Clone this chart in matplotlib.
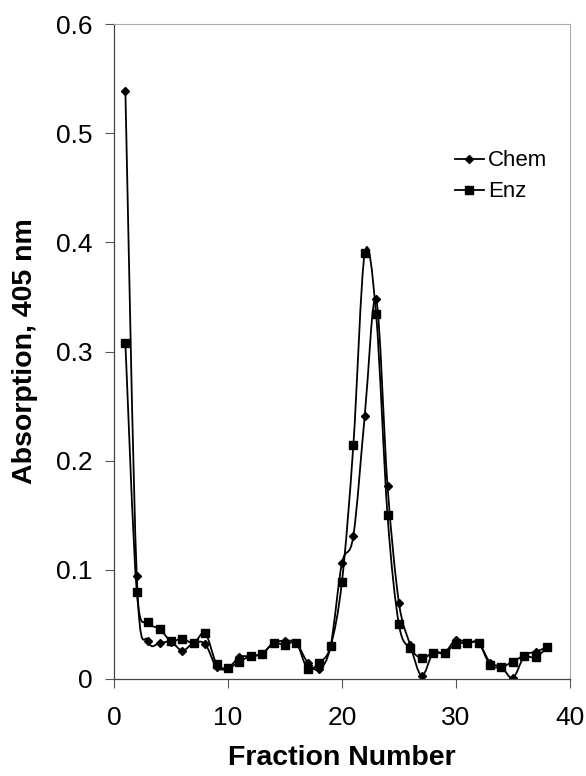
import numpy as np
import matplotlib.pyplot as plt
from matplotlib.path import Path
from matplotlib.patches import PathPatch

plt.rcParams['font.family'] = ['Liberation Sans', 'DejaVu Sans']

# Fraction numbers and absorption readings at 405 nm
fraction = np.arange(1, 39)
chem = [0.539, 0.094, 0.035, 0.033, 0.034, 0.026, 0.033, 0.032, 0.011, 0.010,
        0.020, 0.021, 0.023, 0.033, 0.035, 0.033, 0.015, 0.009, 0.030, 0.106,
        0.131, 0.241, 0.348, 0.177, 0.070, 0.031, 0.003, 0.024, 0.024, 0.036,
        0.033, 0.033, 0.015, 0.011, 0.001, 0.021, 0.025, 0.029]
enz = [0.308, 0.080, 0.052, 0.046, 0.035, 0.037, 0.033, 0.042, 0.014, 0.010,
       0.016, 0.021, 0.023, 0.033, 0.031, 0.033, 0.009, 0.015, 0.030, 0.089,
       0.214, 0.390, 0.334, 0.150, 0.050, 0.028, 0.019, 0.024, 0.024, 0.032,
       0.033, 0.033, 0.013, 0.011, 0.016, 0.021, 0.020, 0.029]


def smooth_path(x, y):
    """Excel-like smoothed line: Catmull-Rom segments as cubic Bezier."""
    x = np.asarray(x, float)
    y = np.asarray(y, float)
    pts = np.column_stack([x, y])
    verts = [pts[0]]
    codes = [Path.MOVETO]
    n = len(pts)
    for i in range(n - 1):
        p0 = pts[max(i - 1, 0)]
        p1 = pts[i]
        p2 = pts[i + 1]
        p3 = pts[min(i + 2, n - 1)]
        c1 = p1 + (p2 - p0) / 6.0
        c2 = p2 - (p3 - p1) / 6.0
        verts += [c1, c2, p2]
        codes += [Path.CURVE4] * 3
    return Path(verts, codes)


fig = plt.figure(figsize=(5.86, 7.76), dpi=100)
ax = fig.add_axes([0.1945, 0.125, 0.778, 0.844])

for vals, mk, ms, lab in [(chem, 'D', 4, 'Chem'), (enz, 's', 5.5, 'Enz')]:
    ax.add_patch(PathPatch(smooth_path(fraction, vals), fill=False,
                           edgecolor='black', lw=1.3))
    ax.plot(fraction, vals, linestyle='none', marker=mk, markersize=ms,
            color='black')
    # legend handle
    ax.plot([], [], color='black', lw=1.3, marker=mk, markersize=ms, label=lab)

ax.set_xlim(0, 40)
ax.set_ylim(0, 0.6)
ax.set_xticks([0, 10, 20, 30, 40])
ax.set_yticks([0, 0.1, 0.2, 0.3, 0.4, 0.5, 0.6])
ax.set_yticklabels(['0', '0.1', '0.2', '0.3', '0.4', '0.5', '0.6'])
ax.tick_params(labelsize=19, length=6.5, width=0.8, color='#555555')
ax.tick_params(axis='x', pad=13)
ax.tick_params(axis='y', pad=9)

for s in ['top', 'right']:
    ax.spines[s].set_color('#aaaaaa')
    ax.spines[s].set_linewidth(0.8)
for s in ['left', 'bottom']:
    ax.spines[s].set_color('#444444')
    ax.spines[s].set_linewidth(0.9)

ax.set_xlabel('Fraction Number', fontsize=20.5, fontweight='bold', labelpad=11)
ax.set_ylabel('Absorption, 405 nm', fontsize=20.5, fontweight='bold', labelpad=13)

ax.legend(loc='upper left', bbox_to_anchor=(0.748, 0.807), frameon=False,
          fontsize=16, handlelength=1.3, handletextpad=0.2, labelspacing=0.45,
          borderpad=0, borderaxespad=0)

fig.savefig('out.png', dpi=100)
